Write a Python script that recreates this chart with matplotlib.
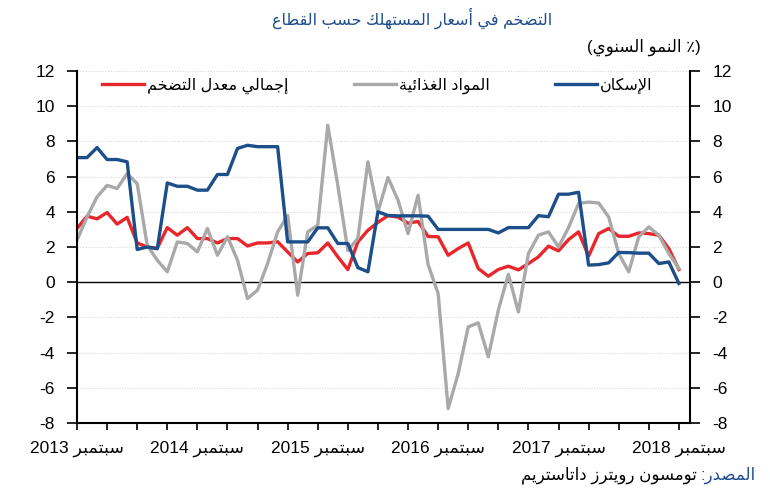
import re
import matplotlib
matplotlib.use('Agg')
import matplotlib.pyplot as plt

plt.rcParams['font.family'] = ['Liberation Sans', 'DejaVu Sans']
plt.rcParams['axes.unicode_minus'] = False

# monthly, Sep 2013 .. Sep 2018
headline = [3.05, 3.75, 3.6, 3.96, 3.3, 3.68, 2.23, 2.0, 1.93, 3.1,
            2.67, 3.1, 2.48, 2.48, 2.23, 2.48, 2.48, 2.06, 2.23, 2.23,
            2.3, 1.72, 1.15, 1.63, 1.67, 2.23, 1.44, 0.72, 2.29, 2.95,
            3.4, 3.78, 3.7, 3.35, 3.45, 2.6, 2.58, 1.53, 1.91, 2.23,
            0.78, 0.34, 0.72, 0.91, 0.7, 1.06, 1.44, 2.05, 1.78, 2.42,
            2.86, 1.48, 2.76, 3.05, 2.61, 2.61, 2.8, 2.76, 2.67, 1.91,
            0.72]
food = [2.39, 3.71, 4.85, 5.5, 5.32, 6.17, 5.6, 2.1, 1.25, 0.59,
        2.29, 2.2, 1.72, 3.05, 1.53, 2.58, 1.25, -0.93, -0.45, 1.06,
        2.86, 3.8, -0.74, 2.86, 3.24, 8.92, 5.5, 1.8, 2.5, 6.84,
        4.0, 5.95, 4.66, 2.76, 4.94, 1.0, -0.64, -7.18, -5.19, -2.54,
        -2.31, -4.24, -1.59, 0.45, -1.69, 1.63, 2.67, 2.86, 2.0, 3.1,
        4.47, 4.55, 4.5, 3.71, 1.63, 0.59, 2.58, 3.14, 2.67, 1.63,
        0.78]
housing = [7.08, 7.08, 7.65, 6.97, 6.97, 6.84, 1.86, 2.0, 1.9, 5.64,
           5.45, 5.45, 5.23, 5.23, 6.12, 6.12, 7.6, 7.78, 7.7, 7.7,
           7.7, 2.29, 2.29, 2.29, 3.09, 3.09, 2.2, 2.2, 0.83, 0.59,
           4.0, 3.79, 3.77, 3.77, 3.77, 3.75, 3.0, 3.0, 3.0, 3.0,
           3.0, 3.0, 2.8, 3.1, 3.1, 3.1, 3.78, 3.72, 5.0, 5.0,
           5.11, 0.97, 1.0, 1.1, 1.69, 1.68, 1.65, 1.65, 1.06, 1.15,
           -0.07]
years = ['2013', '2014', '2015', '2016', '2017', '2018']
month_name = 'سبتمبر'

# arabic shaping (no bidi / shaping engine in matplotlib)
FORMS = {'ء': (0xFE80, 1), 'آ': (0xFE81, 2), 'أ': (0xFE83, 2), 'ؤ': (0xFE85, 2),
         'إ': (0xFE87, 2), 'ئ': (0xFE89, 4), 'ا': (0xFE8D, 2), 'ب': (0xFE8F, 4),
         'ة': (0xFE93, 2), 'ت': (0xFE95, 4), 'ث': (0xFE99, 4), 'ج': (0xFE9D, 4),
         'ح': (0xFEA1, 4), 'خ': (0xFEA5, 4), 'د': (0xFEA9, 2), 'ذ': (0xFEAB, 2),
         'ر': (0xFEAD, 2), 'ز': (0xFEAF, 2), 'س': (0xFEB1, 4), 'ش': (0xFEB5, 4),
         'ص': (0xFEB9, 4), 'ض': (0xFEBD, 4), 'ط': (0xFEC1, 4), 'ظ': (0xFEC5, 4),
         'ع': (0xFEC9, 4), 'غ': (0xFECD, 4), 'ف': (0xFED1, 4), 'ق': (0xFED5, 4),
         'ك': (0xFED9, 4), 'ل': (0xFEDD, 4), 'م': (0xFEE1, 4), 'ن': (0xFEE5, 4),
         'ه': (0xFEE9, 4), 'و': (0xFEED, 2), 'ى': (0xFEEF, 2), 'ي': (0xFEF1, 4),
         'لآ': (0xFEF5, 2), 'لأ': (0xFEF7, 2), 'لإ': (0xFEF9, 2), 'لا': (0xFEFB, 2)}
MIRROR = {'(': ')', ')': '('}


def shape(text):
    items = []
    i = 0
    while i < len(text):
        if text[i:i + 2] in FORMS:
            items.append(text[i:i + 2])
            i += 2
        else:
            items.append(text[i])
            i += 1
    out = ''
    for k, c in enumerate(items):
        if c not in FORMS:
            out += c
            continue
        start, n = FORMS[c]
        prev = k > 0 and items[k - 1] in FORMS and FORMS[items[k - 1]][1] == 4
        nxt = n == 4 and k + 1 < len(items) and items[k + 1] in FORMS
        if prev and nxt:
            idx = 3
        elif prev:
            idx = 1
        elif nxt:
            idx = 2
        else:
            idx = 0
        out += chr(start + idx)
    return out


def ar(text):
    runs = re.findall(r'[0-9A-Za-z.]+|[^0-9A-Za-z.]+', shape(text))
    vis = ''
    for r in reversed(runs):
        if re.match(r'[0-9A-Za-z.]', r):
            vis += r
        else:
            vis += ''.join(MIRROR.get(ch, ch) for ch in reversed(r))
    return vis


fig = plt.figure(figsize=(7.7, 5.0), dpi=100)
ax = fig.add_axes([0.1, 0.154, 0.796, 0.704])
x = list(range(len(headline)))

ax.plot(x, headline, color='#e8262c', lw=2.4, label=ar('إجمالي معدل التضخم'))
ax.plot(x, food, color='#a9a9a9', lw=2.4, label=ar('المواد الغذائية'))
ax.plot(x, housing, color='#1c4e89', lw=2.4, label=ar('الإسكان'))

ax.set_ylim(-8, 12)
ax.set_xlim(0, 61.1)
ax.set_yticks(range(-8, 13, 2))
for v in range(-6, 13, 2):
    if v != 0:
        ax.axhline(v, color='#d9d9d9', lw=0.8, ls=(0, (1, 1.5)), zorder=0)
ax.axhline(0, color='black', lw=1.0, zorder=1)

ax.set_xticks(range(0, 61, 12), labels=[ar(month_name + ' ' + y) for y in years])
ax.set_xticks(range(0, 61, 3), minor=True)
ax.tick_params(axis='x', which='both', length=5, width=1.2, direction='out',
               labelsize=12.5, pad=8)
ax.tick_params(axis='y', which='both', length=7, width=1.2, labelsize=12.5,
               left=True, right=True, labelleft=True, labelright=True, pad=9)
ax.spines['top'].set_visible(False)
for s in ['left', 'right', 'bottom']:
    ax.spines[s].set_linewidth(1.5)

ax.legend(loc='upper left', bbox_to_anchor=(0.018, 1.022), ncol=3, frameon=False,
          handlelength=2.6, handletextpad=0.2, columnspacing=4.1, fontsize=11.5)

fig.text(0.535, 0.964, ar('التضخم في أسعار المستهلك حسب القطاع'),
         ha='center', va='center', color='#1f4e8c', fontsize=11.5)
fig.text(0.91, 0.906, ar('(٪ النمو السنوي)'), ha='right', va='center', fontsize=12)

renderer = fig.canvas.get_renderer()
src = fig.text(0.981, 0.05, ar('المصدر:'), ha='right', va='center', color='#1f4e8c', fontsize=12)
bb = src.get_window_extent(renderer)
fig.text(bb.x0 / fig.bbox.width - 0.004, 0.05, ar('تومسون رويترز داتاستريم'),
         ha='right', va='center', fontsize=12)

fig.savefig('out.png', dpi=100)
